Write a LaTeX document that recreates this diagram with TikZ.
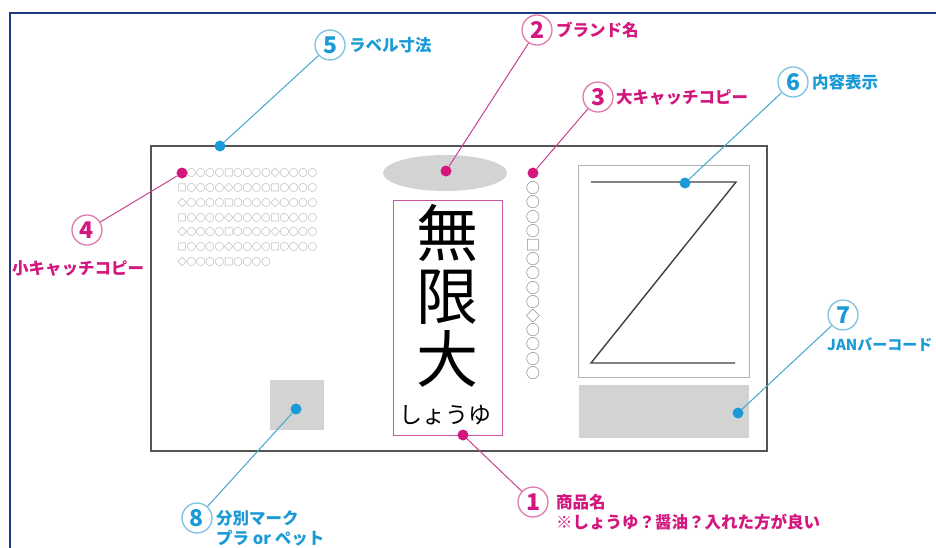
\documentclass[tikz,border=0pt]{standalone}
\usepackage{fontspec}
\newfontfamily\jp{Noto Sans CJK JP}
\definecolor{cblue}{HTML}{1A9AD6}
\definecolor{cmag}{HTML}{D4177F}
\definecolor{lblue}{HTML}{7CC3E3}
\definecolor{lmag}{HTML}{E07AB0}
\definecolor{lineblue}{HTML}{45A6CC}
\definecolor{linemag}{HTML}{C8438F}
\definecolor{navy}{HTML}{1C3A7E}
\definecolor{fillgray}{HTML}{D3D3D3}
\definecolor{boxgray}{HTML}{555555}
\definecolor{boxmag}{HTML}{C8559F}
\begin{document}
\begin{tikzpicture}[x=1pt,y=-1pt,
  dotb/.style={circle,fill=cblue,inner sep=0pt,minimum size=11pt},
  dotm/.style={circle,fill=cmag,inner sep=0pt,minimum size=11pt},
  numb/.style={circle,draw=lblue,line width=1.3pt,minimum size=30pt,inner sep=0pt,text=cblue,font=\jp\bfseries\fontsize{23}{23}\selectfont},
  numm/.style={circle,draw=lmag,line width=1.3pt,minimum size=30pt,inner sep=0pt,text=cmag,font=\jp\bfseries\fontsize{23}{23}\selectfont},
  labb/.style={anchor=west,inner sep=0pt,align=left,text=cblue,font=\jp\bfseries\fontsize{16.5}{20}\selectfont},
  labm/.style={anchor=west,inner sep=0pt,align=left,text=cmag,font=\jp\bfseries\fontsize{16.5}{20}\selectfont},
  linkb/.style={draw=lineblue,line width=1pt},
  linkm/.style={draw=linemag,line width=1pt},
  glyphs/.style={inner sep=0pt,text=black!50,font=\jp\fontsize{9.3}{14.7}\selectfont},
]
\useasboundingbox (0,0) rectangle (936,547);
\fill[white] (0,0) rectangle (936,547);
% outer frame
\draw[navy,line width=2pt] (9.5,560) -- (9.5,12.5) -- (950,12.5);

% label outline
\draw[boxgray,line width=1.5pt] (151,146) rectangle (767,451);

% brand ellipse
\fill[fillgray] (445,173) ellipse [x radius=62,y radius=18];

% product name box
\draw[boxmag,line width=1pt] (393,200) rectangle (502,435);
\node[inner sep=0pt,align=center,font=\jp\fontsize{62}{63}\selectfont] (pname) at (447.5,296) {無\\限\\大};
\node[inner sep=0pt,font=\jp\fontsize{23}{23}\selectfont] (kana) at (445,415) {しょうゆ};

% small catch copy grid
\node[glyphs,align=left] (grid) at (247.3,217.5) {\hphantom{◇}○○○○□○○○○◇○○○○\\□○○○○◇○○○○□○○○○\\◇○○○○□○○○○◇○○○○\\□○○○○◇○○○○□○○○○\\◇○○○○□○○○○◇○○○○\\□○○○○◇○○○○□○○○○\\◇○○○○□○○○○};

% large catch copy column
\node[inner sep=0pt,align=center,text=black!55,font=\jp\fontsize{14.2}{14.2}\selectfont] (col) at (533,280.5) {○\\○\\○\\○\\□\\○\\○\\○\\○\\◇\\○\\○\\○\\○};

% content box with Z
\draw[black!30,line width=0.8pt] (578,165) rectangle (749,377);
\draw[black!75,line width=1.4pt] (591,182) -- (736,182) -- (591,363) -- (735,363);

% barcode area
\fill[fillgray] (579,385) rectangle (749,438);

% recycling mark area
\fill[fillgray] (270,380) rectangle (324,430);

% dots
\node[dotb] (d5) at (220,146) {};
\node[dotm] (d2) at (446,171) {};
\node[dotm] (d3) at (533,173) {};
\node[dotb] (d6) at (685,183) {};
\node[dotb] (d7) at (738,413) {};
\node[dotm] (d4) at (182,173) {};
\node[dotb] (d8) at (296,409) {};
\node[dotm] (d1) at (463,435) {};

% numbered callouts
\node[numb] (c5) at (330,45) {5};
\node[numm] (c2) at (537,30) {2};
\node[numm] (c3) at (598,97) {3};
\node[numb] (c6) at (793,82) {6};
\node[numb] (c7) at (843,315) {7};
\node[numm] (c4) at (87,230) {4};
\node[numb] (c8) at (197,518) {8};
\node[numm] (c1) at (533,502) {1};

% callout texts
\node[labb] (t5) at (349,45) {ラベル寸法};
\node[labm] (t2) at (556,30) {ブランド名};
\node[labm] (t3) at (616,97) {大キャッチコピー};
\node[labb] (t6) at (812,82) {内容表示};
\node[labb,font=\jp\bfseries\fontsize{15}{20}\selectfont] (t7) at (827,345) {JANバーコード};
\node[labm] (t4) at (12,268) {小キャッチコピー};
\node[labb] (t8) at (216,528) {分別マーク\\プラ or ペット};
\node[labm] (t1) at (556,512) {商品名\\※しょうゆ？醤油？入れた方が良い};

% connectors
\draw[linkb] (c5) -- (d5);
\draw[linkm] (c2) -- (d2);
\draw[linkm] (c3) -- (d3);
\draw[linkb] (c6) -- (d6);
\draw[linkb] (c7) -- (d7);
\draw[linkm] (c4) -- (d4);
\draw[linkb] (c8) -- (d8);
\draw[linkm] (c1) -- (d1);
\end{tikzpicture}
\end{document}
